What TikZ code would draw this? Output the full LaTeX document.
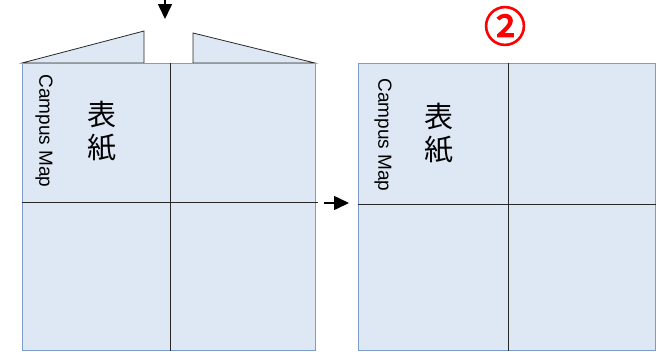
\documentclass[tikz,border=0pt]{standalone}
\usepackage{fontspec}
\setmainfont{Liberation Sans}
\newfontfamily\cjk{Noto Sans CJK JP}
\newfontfamily\cjkheavy[FakeBold=3]{Noto Sans CJK JP}
\usetikzlibrary{arrows.meta}
\definecolor{paper}{RGB}{222,232,245}
\definecolor{edge}{RGB}{126,156,200}
\definecolor{fold}{RGB}{40,40,40}
\begin{document}
\begin{tikzpicture}[x=1pt,y=-1pt]

  % Definitions
  \tikzstyle{sheet} = [rectangle, draw=edge, fill=paper, line width=1pt, minimum width=293pt, minimum height=287pt, inner sep=0pt, anchor=north west]
  \tikzstyle{flap} = [draw=fold, fill=paper, line width=0.8pt, line join=miter]
  \tikzstyle{crease} = [draw=fold, line width=0.9pt]
  \tikzstyle{title} = [font=\fontsize{19}{19}\selectfont, rotate=-90, inner sep=0pt]
  \tikzstyle{cover} = [font=\cjk\fontsize{29}{33}\selectfont, align=center, inner sep=0pt]
  \tikzstyle{arrow} = [line width=1.6pt, -{Triangle[length=15pt,width=14pt]}]

  \useasboundingbox (0,0) rectangle (658,351);

  % flaps of the left sheet
  \draw [flap] (22,63) -- (144,31) -- (144,63) -- cycle;
  \draw [flap] (193,63) -- (193,33) -- (315,63) -- cycle;

  \node (left) [sheet] at (22,63) {};
  \node (right) [sheet, minimum width=297pt] at (358,63) {};

  \draw [crease] ([xshift=1.5pt]left.north) -- ([xshift=1.5pt]left.south);
  \draw [crease] ([yshift=4.5pt]left.west) -- ([xshift=2pt,yshift=4.5pt]left.east);
  \draw [crease] ([xshift=1.5pt]right.north) -- ([xshift=1.5pt]right.south);
  \draw [crease] ([yshift=2.5pt]right.west) -- ([yshift=2.5pt]right.east);

  \node (mapL) [title] at (44,131) {Campus Map};
  \node (coverL) [cover] at (102,131) {表\\紙};
  \node (mapR) [title] at (383,135) {Campus Map};
  \node (coverR) [cover] at (439,133) {表\\紙};

  \node (step2) [text=red, font=\cjkheavy\fontsize{42}{42}\selectfont, inner sep=0pt] at (505,26) {②};

  \coordinate (dropA) at (165,0);
  \coordinate (dropB) at (165,19);
  \coordinate (turnA) at (324,203);
  \coordinate (turnB) at (349,203);
  \draw [arrow] (dropA) -- (dropB);
  \draw [arrow] (turnA) -- (turnB);

\end{tikzpicture}
\end{document}
